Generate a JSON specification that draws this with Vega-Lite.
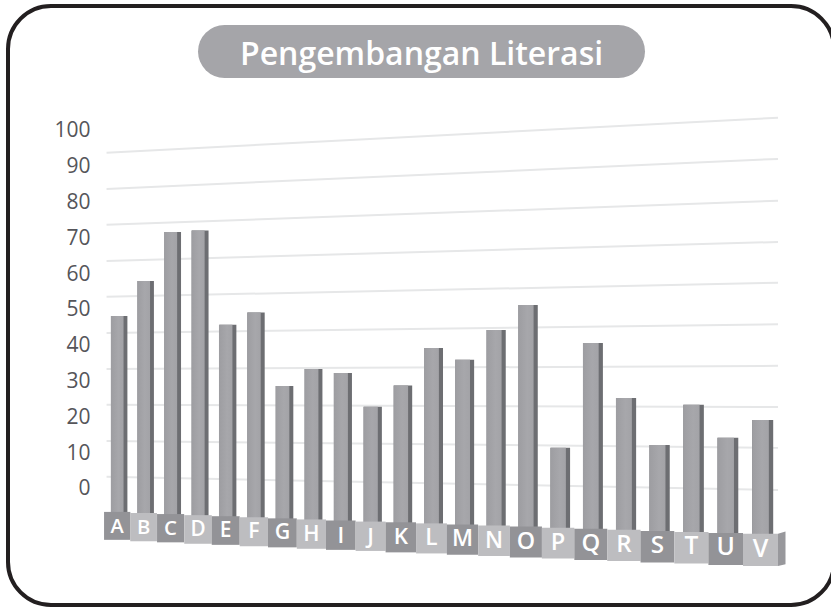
{
  "$schema": "https://vega.github.io/schema/vega-lite/v6.json",
  "autosize": "none",
  "width": 826,
  "height": 599,
  "padding": {"left": 8, "top": 6, "right": 0, "bottom": 3},
  "background": "#ffffff",
  "view": {"fill": "#ffffff", "stroke": "#231f20", "strokeWidth": 4, "cornerRadius": 43},
  "title": {
    "text": "Pengembangan Literasi",
    "anchor": "start",
    "font": "Open Sans",
    "fontSize": 32,
    "fontWeight": 600,
    "color": "#ffffff",
    "offset": 0,
    "dx": 232,
    "dy": 66
  },
  "datasets": {
    "kolom": [
      {"huruf": "A", "no": 1, "nilai": 48.0, "atas": -6.7, "bawah": -14.5},
      {"huruf": "B", "no": 2, "nilai": 57.8, "atas": -7.0, "bawah": -14.9},
      {"huruf": "C", "no": 3, "nilai": 71.5, "atas": -7.3, "bawah": -15.2},
      {"huruf": "D", "no": 4, "nilai": 71.9, "atas": -7.6, "bawah": -15.6},
      {"huruf": "E", "no": 5, "nilai": 45.6, "atas": -7.9, "bawah": -15.9},
      {"huruf": "F", "no": 6, "nilai": 49.0, "atas": -8.2, "bawah": -16.3},
      {"huruf": "G", "no": 7, "nilai": 28.5, "atas": -8.5, "bawah": -16.6},
      {"huruf": "H", "no": 8, "nilai": 33.2, "atas": -8.8, "bawah": -17.0},
      {"huruf": "I", "no": 9, "nilai": 32.1, "atas": -9.1, "bawah": -17.3},
      {"huruf": "J", "no": 10, "nilai": 22.7, "atas": -9.4, "bawah": -17.6},
      {"huruf": "K", "no": 11, "nilai": 28.6, "atas": -9.6, "bawah": -18.0},
      {"huruf": "L", "no": 12, "nilai": 39.1, "atas": -9.9, "bawah": -18.3},
      {"huruf": "M", "no": 13, "nilai": 35.8, "atas": -10.2, "bawah": -18.7},
      {"huruf": "N", "no": 14, "nilai": 44.1, "atas": -10.5, "bawah": -19.0},
      {"huruf": "O", "no": 15, "nilai": 51.1, "atas": -10.8, "bawah": -19.4},
      {"huruf": "P", "no": 16, "nilai": 11.2, "atas": -11.1, "bawah": -19.7},
      {"huruf": "Q", "no": 17, "nilai": 40.5, "atas": -11.4, "bawah": -20.1},
      {"huruf": "R", "no": 18, "nilai": 25.1, "atas": -11.7, "bawah": -20.4},
      {"huruf": "S", "no": 19, "nilai": 12.0, "atas": -12.0, "bawah": -20.8},
      {"huruf": "T", "no": 20, "nilai": 23.2, "atas": -12.3, "bawah": -21.1},
      {"huruf": "U", "no": 21, "nilai": 14.0, "atas": -12.6, "bawah": -21.5},
      {"huruf": "V", "no": 22, "nilai": 19.0, "atas": -12.8, "bawah": -21.8}
    ],
    "garis": [
      {"tingkat": 90, "kiri": 93.6, "kanan": 103.4},
      {"tingkat": 80, "kiri": 83.5, "kanan": 91.9},
      {"tingkat": 70, "kiri": 73.5, "kanan": 80.2},
      {"tingkat": 60, "kiri": 63.4, "kanan": 68.7},
      {"tingkat": 50, "kiri": 53.4, "kanan": 57.3},
      {"tingkat": 40, "kiri": 43.3, "kanan": 45.7},
      {"tingkat": 30, "kiri": 33.2, "kanan": 34.1},
      {"tingkat": 20, "kiri": 23.2, "kanan": 22.6},
      {"tingkat": 10, "kiri": 13.1, "kanan": 11.2},
      {"tingkat": 0, "kiri": 3.1, "kanan": -0.6}
    ],
    "ujung": [
      {"no": 22.5, "atas": -12.8, "bawah": -21.8},
      {"no": 23, "atas": -12.2, "bawah": -21.3}
    ]
  },
  "layer": [
    {
      "data": {"name": "garis"},
      "mark": {"type": "rule", "stroke": "#e6e7e8", "strokeWidth": 2},
      "encoding": {
        "x": {
          "datum": 0.5,
          "type": "quantitative",
          "axis": null,
          "scale": {
            "domain": [0.5, 1, 2, 3, 4, 5, 6, 7, 8, 9, 10, 11, 12, 13, 14, 15, 16, 17, 18, 19, 20, 21, 22, 22.5, 23],
            "range": [95, 109.2, 135.6, 162.6, 190, 217.7, 245.9, 274.4, 303.4, 332.8, 362.6, 392.8, 423.5, 454.5, 486, 517.9, 550.1, 582.8, 615.9, 649.4, 683.4, 717.7, 752.5, 770, 780],
            "nice": false,
            "clamp": false
          }
        },
        "x2": {"datum": 22.5},
        "y": {
          "field": "kiri",
          "type": "quantitative",
          "scale": {"domain": [-32.7, 134.6], "nice": false, "zero": false},
          "axis": {
            "values": [0, 10, 20, 30, 40, 50, 60, 70, 80, 90, 100],
            "title": null,
            "domain": false,
            "ticks": false,
            "grid": false,
            "offset": -82,
            "labelPadding": 0,
            "labelOffset": 1,
            "labelFont": "Open Sans",
            "labelFontSize": 21,
            "labelColor": "#55555a"
          }
        },
        "y2": {"field": "kanan"}
      }
    },
    {
      "data": {"name": "kolom"},
      "mark": {"type": "bar", "color": "#6d6e72", "xOffset": 2.2},
      "encoding": {
        "x": {"field": "no", "type": "quantitative"},
        "y": {"field": "nilai", "type": "quantitative"},
        "y2": {"datum": -13.7},
        "size": {"field": "no", "type": "quantitative", "scale": {"domain": [1, 22], "range": [16, 21]}, "legend": null}
      }
    },
    {
      "data": {"name": "kolom"},
      "mark": {
        "type": "bar",
        "color": {
          "gradient": "linear",
          "x1": 0,
          "x2": 1,
          "y1": 0,
          "y2": 0,
          "stops": [
            {"offset": 0, "color": "#9d9da1"},
            {"offset": 0.6, "color": "#a7a7ab"},
            {"offset": 1, "color": "#a3a3a7"}
          ]
        }
      },
      "encoding": {
        "x": {"field": "no", "type": "quantitative"},
        "y": {"field": "nilai", "type": "quantitative"},
        "y2": {"datum": -13.7},
        "size": {"field": "no", "type": "quantitative", "scale": {"domain": [1, 22], "range": [12.7, 16.7]}, "legend": null}
      }
    },
    {
      "data": {"name": "kolom"},
      "mark": {"type": "bar"},
      "encoding": {
        "x": {"field": "no", "type": "quantitative"},
        "y": {"field": "atas", "type": "quantitative"},
        "y2": {"field": "bawah"},
        "size": {"field": "no", "type": "quantitative", "scale": {"domain": [1, 22], "range": [26.3, 35]}, "legend": null},
        "color": {"condition": {"test": "datum.no % 2 == 1", "value": "#939397"}, "value": "#bdbdc0"}
      }
    },
    {
      "data": {"name": "ujung"},
      "mark": {"type": "area", "color": "#98989c", "orient": "vertical"},
      "encoding": {
        "x": {"field": "no", "type": "quantitative"},
        "y": {"field": "atas", "type": "quantitative"},
        "y2": {"field": "bawah"}
      }
    },
    {
      "data": {"name": "kolom"},
      "mark": {"type": "text", "font": "Open Sans", "fontWeight": 600, "color": "#ffffff", "baseline": "middle", "dy": 15},
      "encoding": {
        "x": {"field": "no", "type": "quantitative"},
        "y": {"field": "atas", "type": "quantitative"},
        "text": {"field": "huruf"},
        "size": {"field": "no", "type": "quantitative", "scale": {"domain": [1, 22], "range": [20, 25]}, "legend": null}
      }
    },
    {
      "data": {"values": [{"pita": "judul"}]},
      "mark": {"type": "rule", "stroke": "#a5a5a9", "strokeWidth": 53, "strokeCap": "round"},
      "encoding": {
        "x": {"datum": 4.957},
        "x2": {"datum": 17.837},
        "y": {"datum": 121.9}
      }
    }
  ],
  "resolve": {"scale": {"size": "independent"}}
}
